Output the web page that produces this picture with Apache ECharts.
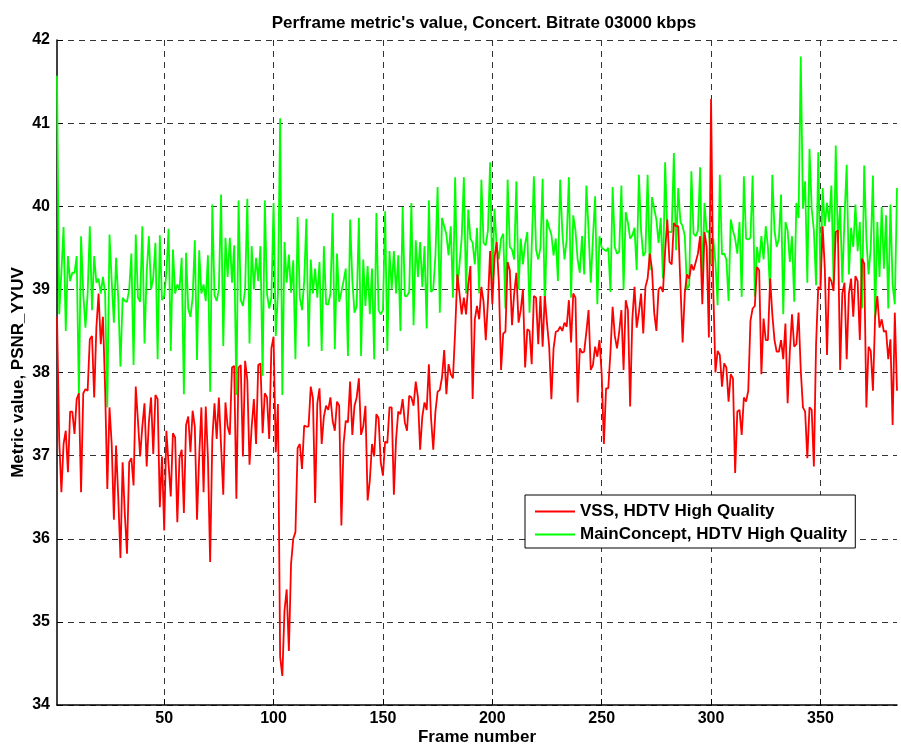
<!DOCTYPE html>
<html><head><meta charset="utf-8">
<script src="https://cdn.jsdelivr.net/npm/echarts@6/dist/echarts.min.js"></script>
<style>html,body{margin:0;padding:0;background:#fff}#c{width:901px;height:747px}</style>
</head><body><div id="c"></div>
<script>
const titleText = "Perframe metric's value, Concert. Bitrate 03000 kbps";
const xName = 'Frame number';
const yName = 'Metric value, PSNR_YYUV';
const seriesNames = ['VSS, HDTV High Quality', 'MainConcept, HDTV High Quality'];
const firstFrame = 1;
const xTicks = [50, 100, 150, 200, 250, 300, 350];
const yTicks = [34, 35, 36, 37, 38, 39, 40, 41, 42];

const vssValues = [
38.67,37.2,36.56,37.14,37.3,36.8,37.53,37.53,37.26,37.68,
37.75,36.56,37.75,37.8,37.78,38.4,38.44,37.7,38.54,38.95,
38.34,38.67,37.8,36.6,37.58,37.14,36.23,37.12,36.5,35.77,
36.92,36.3,35.82,36.92,36.97,36.64,37.83,37.42,36.99,37.35,
37.63,36.87,37.4,37.7,37.02,37.73,37.68,36.38,36.99,36.1,
37.3,36.9,36.51,37.27,37.22,36.2,36.97,37.07,36.31,37.37,
37.47,37.04,37.54,37.35,36.23,36.99,37.58,36.56,37.59,36.97,
35.72,37.2,37.63,37.2,37.7,37.12,36.53,37.64,37.35,37.25,
38.06,38.08,36.48,38.06,38.09,36.99,38.14,37.91,36.89,37.35,
37.68,37.14,38.09,38.11,37.27,37.75,37.7,37.2,38.29,38.43,
37.04,37.62,34.58,34.35,35.14,35.39,34.65,35.7,36.0,36.08,
37.09,37.14,36.84,37.36,37.35,37.35,37.83,37.69,36.43,37.63,
37.81,37.14,37.47,37.6,37.55,37.7,37.42,37.3,37.65,37.6,
36.16,37.14,37.42,37.4,37.89,37.25,37.6,37.7,37.93,37.25,
37.35,37.6,36.46,36.7,37.14,36.99,37.5,37.45,36.92,36.76,
37.17,37.15,37.58,37.58,36.53,37.2,37.53,37.5,37.68,37.4,
37.3,37.72,37.7,37.6,37.89,37.7,37.07,37.47,37.64,37.55,
38.1,37.45,37.07,37.53,37.77,37.79,37.94,38.27,37.74,38.1,
37.98,37.93,38.49,39.18,38.95,38.7,38.9,38.7,39.06,39.28,
37.68,38.64,38.8,38.64,39.03,38.85,38.39,38.85,39.46,38.82,
39.38,39.57,39.08,38.03,38.47,38.49,39.33,39.23,38.57,38.95,
39.2,38.6,38.75,39.0,38.06,38.52,38.5,38.1,38.92,38.9,
38.34,38.92,38.31,38.92,38.59,38.31,37.68,38.29,38.49,38.5,
38.55,38.5,38.6,38.55,38.87,38.36,38.95,38.9,37.64,38.29,
38.24,38.25,38.49,38.75,38.03,38.09,38.31,38.19,38.39,37.98,
37.14,37.81,37.81,38.24,38.79,38.44,38.29,38.49,38.75,38.03,
38.87,38.75,37.59,38.64,39.03,38.54,38.72,38.95,38.47,39.03,
39.13,39.43,39.24,38.72,38.5,39.0,39.03,38.97,39.46,39.84,
39.33,39.3,39.8,39.76,39.76,39.05,38.36,38.96,39.18,39.13,
39.3,39.23,39.33,39.43,39.64,38.82,39.69,39.51,38.42,41.29,
39.0,38.0,38.26,38.21,37.83,38.11,38.06,37.65,37.98,37.93,
36.79,37.53,37.55,37.25,37.7,37.65,37.78,38.62,38.77,38.8,
39.27,39.23,37.98,38.65,38.39,38.39,39.13,38.7,38.39,38.25,
38.25,38.39,38.16,38.59,37.63,38.25,38.7,38.31,38.34,38.72,
38.03,37.58,37.53,36.97,37.58,37.55,36.87,38.34,39.03,39.0,
39.76,39.25,38.21,39.15,39.1,38.98,39.69,39.71,38.03,38.95,
39.08,38.16,38.95,39.13,38.67,39.16,39.1,38.39,39.37,39.31,
37.58,38.31,38.26,37.78,38.67,38.92,38.54,38.64,38.49,38.5,
38.16,38.4,37.37,38.72,37.78
];

const mainConceptValues = [
41.57,38.7,39.2,39.75,38.5,39.4,39.1,39.2,39.2,39.4,
37.73,39.64,38.95,38.54,38.95,39.76,38.75,39.4,39.08,39.13,
38.95,39.15,38.95,37.58,39.66,39.1,38.6,39.38,38.9,38.07,
38.9,38.86,38.85,39.0,39.43,38.09,39.66,38.9,38.85,39.76,
38.35,39.2,39.64,39.0,39.14,39.56,38.16,39.65,38.87,38.92,
39.2,39.73,38.26,39.48,38.95,39.06,39.0,39.38,37.74,39.44,
38.77,38.67,38.9,39.59,38.15,39.47,38.95,39.06,38.86,39.41,
37.77,40.02,38.93,38.86,39.0,40.14,38.32,39.62,39.15,39.62,
39.08,39.53,37.73,40.07,38.87,38.8,39.0,40.09,38.35,39.52,
39.0,39.38,39.1,39.52,37.96,40.07,38.95,38.77,38.9,40.04,
38.44,38.95,41.06,37.73,39.57,39.08,39.42,38.96,39.35,38.16,
39.87,38.9,38.75,39.1,39.85,38.31,39.36,38.95,39.25,38.9,
39.33,38.26,39.52,38.82,38.82,38.95,39.92,38.28,39.43,38.85,
38.97,39.1,39.25,38.2,39.84,39.11,38.72,38.8,39.86,38.2,
39.36,38.8,39.28,38.7,39.25,38.16,39.92,38.75,38.7,38.75,
39.94,38.26,39.46,39.0,39.46,38.95,39.41,38.5,39.99,38.92,
38.92,38.97,40.04,38.57,39.59,39.15,39.57,39.03,39.52,38.53,
40.07,38.97,39.0,39.41,40.23,38.72,39.86,39.76,39.66,39.41,
39.76,38.9,40.35,39.0,39.3,39.62,40.35,38.95,39.96,39.61,
39.56,39.3,39.74,38.95,40.32,39.56,39.53,39.71,40.53,39.1,
39.97,39.51,39.36,39.61,39.67,38.77,40.32,39.51,39.48,39.36,
40.3,39.0,39.61,39.3,39.55,39.69,38.72,39.5,40.36,39.48,
39.36,39.5,40.33,38.75,39.84,39.74,39.66,39.41,39.61,39.1,
40.32,39.69,39.36,39.6,40.35,38.9,39.89,39.71,39.36,39.2,
39.64,39.18,40.25,39.71,39.08,39.62,40.12,38.82,39.64,39.5,
39.48,39.46,39.5,38.97,40.23,39.51,39.43,39.45,40.25,39.0,
39.93,39.8,39.61,39.65,39.74,39.23,40.38,39.71,39.4,39.45,
40.38,39.23,40.11,39.97,39.84,39.56,39.86,39.13,40.53,39.69,
39.69,39.69,40.64,39.47,40.22,39.81,39.76,39.64,39.0,39.05,
40.42,39.67,39.64,39.71,40.47,39.06,40.04,39.69,39.7,39.3,
39.61,39.32,38.81,40.38,39.42,39.43,39.36,38.86,39.84,39.71,
39.61,39.43,39.81,38.91,40.36,39.61,39.6,39.62,40.37,38.91,
39.51,39.32,39.64,39.36,39.76,39.51,38.95,40.38,39.71,39.51,
39.61,40.14,38.7,39.81,39.71,39.33,39.64,38.85,40.04,39.86,
41.8,39.97,40.3,39.08,40.69,39.97,39.71,39.05,40.65,39.05,
40.22,39.76,40.04,39.81,40.25,39.08,40.73,39.56,39.99,39.08,
39.86,40.5,39.18,39.74,39.51,40.02,39.46,39.81,38.77,40.49,
39.61,39.18,39.5,40.37,38.64,39.81,39.15,39.99,39.25,39.89,
38.77,40.02,39.05,38.82,40.22
];

const FONT = "'Liberation Sans', Arial, sans-serif";
const toPairs = arr => arr.map((v, i) => [firstFrame + i, v]);
const lastFrame = firstFrame + vssValues.length - 1;
const txt = (size) => ({fontFamily: FONT, fontWeight: 'bold', fontSize: size, color: '#000'});

const chart = echarts.init(document.getElementById('c'), null, {renderer: 'canvas'});
chart.setOption({
  animation: false,
  backgroundColor: '#fff',
  title: {
    text: titleText, left: 479, top: 10, textAlign: 'center',
    textStyle: txt(17)
  },
  grid: {left: 57, right: 4, top: 40, bottom: 42, containLabel: false, outerBoundsMode: 'none'},
  legend: {
    orient: 'vertical', left: 525, top: 495,
    data: seriesNames,
    icon: 'rect', itemWidth: 40, itemHeight: 2, itemGap: 6,
    padding: [8, 8, 5, 10],
    borderColor: '#000', borderWidth: 1, backgroundColor: '#fff',
    textStyle: txt(17)
  },
  xAxis: {
    type: 'value', min: firstFrame, max: lastFrame,
    name: xName, nameLocation: 'middle', nameGap: 24, nameMoveOverlap: false,
    nameTextStyle: txt(17),
    axisLine: {show: true, onZero: false, lineStyle: {color: '#000', width: 1.5}},
    axisTick: {show: true, inside: true, length: 6, customValues: xTicks, lineStyle: {color: '#000'}},
    axisLabel: {customValues: xTicks, margin: 6, ...txt(16)},
    splitLine: {show: true, lineStyle: {color: '#333', type: [6, 5], width: 1}}
  },
  yAxis: {
    type: 'value', min: yTicks[0], max: yTicks[yTicks.length - 1], interval: 1,
    name: yName, nameLocation: 'middle', nameGap: 30, nameMoveOverlap: false,
    nameTextStyle: txt(17),
    axisLine: {show: true, lineStyle: {color: '#000', width: 1.5}},
    axisTick: {show: true, inside: true, length: 6, lineStyle: {color: '#000'}},
    axisLabel: {margin: 7, ...txt(16)},
    splitLine: {show: true, lineStyle: {color: '#333', type: [6, 5], width: 1}}
  },
  series: [
    {name: seriesNames[0], type: 'line', data: toPairs(vssValues), showSymbol: false,
     lineStyle: {color: '#ff0000', width: 1.8}, itemStyle: {color: '#ff0000'}, z: 2},
    {name: seriesNames[1], type: 'line', data: toPairs(mainConceptValues), showSymbol: false,
     lineStyle: {color: '#00ff00', width: 1.8}, itemStyle: {color: '#00ff00'}, z: 1}
  ]
});
</script></body></html>
